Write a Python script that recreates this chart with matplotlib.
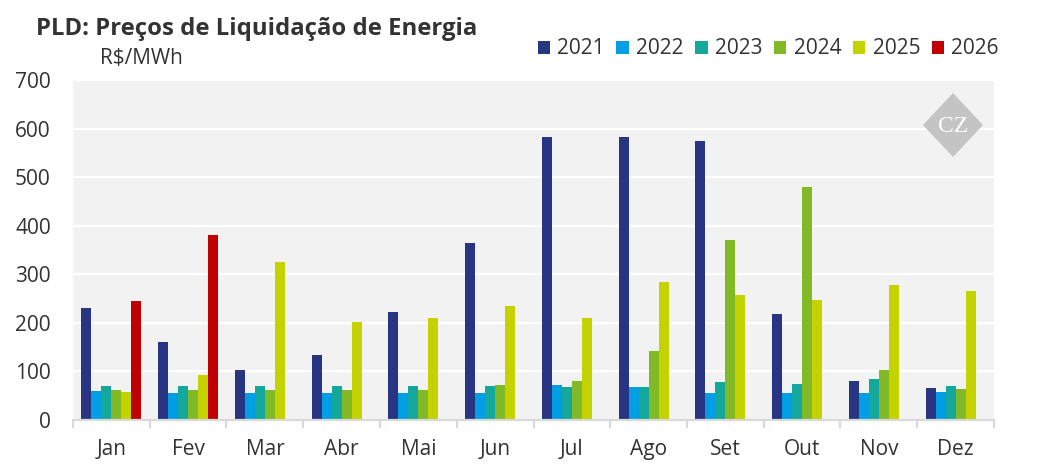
import matplotlib
matplotlib.use("Agg")
import matplotlib.pyplot as plt
from matplotlib.patches import Patch, Polygon
import numpy as np

plt.rcParams['font.family'] = ['Open Sans', 'DejaVu Sans']

months = ["Jan", "Fev", "Mar", "Abr", "Mai", "Jun", "Jul", "Ago", "Set", "Out", "Nov", "Dez"]
years = ["2021", "2022", "2023", "2024", "2025", "2026"]
colors = ["#283583", "#009FE3", "#14A89C", "#82BA27", "#C4D200", "#C00000"]

v2021 = [230, 160, 103, 133, 222, 365, 583, 583, 575, 219, 80, 66]
v2022 = [60, 55.7, 55.7, 55.7, 55.7, 55.7, 72, 68, 55.7, 55.7, 55.7, 57]
v2023 = [69, 69, 69, 69, 69, 69, 68, 68, 78, 74, 84, 70]
v2024 = [61, 61, 61, 61, 61, 72, 80, 142, 371, 480, 103, 64]
v2025 = [58.6, 92, 326, 201, 211, 234, 209, 285, 258, 248, 277, 265]
v2026 = [246, 381, None, None, None, None, None, None, None, None, None, None]
series = [v2021, v2022, v2023, v2024, v2025, v2026]

W, H = 1039, 475
fig = plt.figure(figsize=(W / 100, H / 100), dpi=100)
ax = fig.add_axes([73 / W, 1 - 420 / H, (994 - 73) / W, (420 - 80) / H])
ax.set_facecolor("#f2f2f2")

x = np.arange(len(months))
bw = 0.13
for i, (vals, c) in enumerate(zip(series, colors)):
    xs = [xi + (i - 2.5) * bw for xi, v in zip(x, vals) if v is not None]
    ys = [v for v in vals if v is not None]
    ax.bar(xs, ys, width=bw, color=c, zorder=3, linewidth=0)

ax.set_xlim(-0.5, len(months) - 0.5)
ax.set_ylim(0, 700)
ax.set_yticks(np.arange(0, 701, 100))
ax.grid(axis='y', color='white', linewidth=1.6, zorder=1)
ax.set_axisbelow(True)

for s in ['top', 'right', 'left']:
    ax.spines[s].set_visible(False)
ax.spines['bottom'].set_color('#d9d9d9')
ax.spines['bottom'].set_linewidth(1.6)
ax.spines['bottom'].set_zorder(4)

ax.set_xticks(np.arange(-0.5, len(months), 1.0))
ax.set_xticklabels([])
ax.set_xticks(x, minor=True)
ax.set_xticklabels(months, minor=True)
ax.tick_params(axis='x', which='major', length=6, width=1.6, color='#d9d9d9', direction='out')
ax.tick_params(axis='x', which='minor', length=0, pad=14, labelsize=15, labelcolor='#333333')
ax.tick_params(axis='y', length=0, pad=16, labelsize=15, labelcolor='#333333')

fig.text(36 / W, 1 - 29 / H, "PLD: Preços de Liquidação de Energia", fontsize=17.2,
         fontweight='bold', color='#333333', ha='left', va='center')
fig.text(100 / W, 1 - 59 / H, "R$/MWh", fontsize=15, color='#333333', ha='left', va='center')

handles = [Patch(facecolor=c, edgecolor='none') for c in colors]
fig.legend(handles, years, loc='center right', bbox_to_anchor=(999 / W, 1 - 49 / H),
           ncol=6, frameon=False, fontsize=15, handlelength=0.6, handleheight=0.6,
           handletextpad=0.35, columnspacing=0.55, borderpad=0, borderaxespad=0,
           labelcolor='#333333')

# watermark
cx, cy, hw, hh = 953, 125, 30, 32
pts = [((cx) / W, 1 - (cy - hh) / H), ((cx + hw) / W, 1 - cy / H),
       (cx / W, 1 - (cy + hh) / H), ((cx - hw) / W, 1 - cy / H)]
fig.patches.append(Polygon(pts, closed=True, transform=fig.transFigure,
                           facecolor='#c4c4c4', edgecolor='none', zorder=5))
fig.text(cx / W, 1 - (cy + 1) / H, "CZ", fontsize=17, family='Liberation Serif',
         color='white', ha='center', va='center', zorder=6)

fig.savefig("out.png", dpi=100, facecolor='white')
